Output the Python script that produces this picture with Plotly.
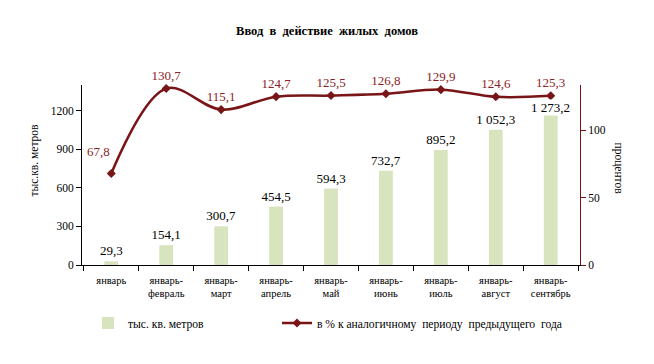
import plotly.graph_objects as go

categories = ["январь", "январь-<br>февраль", "январь-<br>март", "январь-<br>апрель", "январь-<br>май",
              "январь-<br>июнь", "январь-<br>июль", "январь-<br>август", "январь-<br>сентябрь"]
area_values = [29.3, 154.1, 300.7, 454.5, 594.3, 732.7, 895.2, 1052.3, 1273.2]
pct_values = [67.8, 130.7, 115.1, 124.7, 125.5, 126.8, 129.9, 124.6, 125.3]
left_ticks = [0, 300, 600, 900, 1200]
right_ticks = [0, 50, 100]


def fmt(v):
    return f"{v:,.1f}".replace(",", " ").replace(".", ",")


FONT = "Liberation Serif, Times New Roman, serif"
MAROON = "#7a1517"
LABEL_RED = "#8b2326"

W, H = 654, 364
L, R, T, B = 82, 74, 85, 99
PW, PH = W - L - R, H - T - B


def px_x(x):
    return (x - L) / PW


def px_y(y):
    return (H - B - y) / PH


bar_text = [fmt(v) for v in area_values]
bar_text[-1] = ""
line_text = [fmt(v) for v in pct_values]
line_text[0] = ""

fig = go.Figure()
fig.add_trace(go.Bar(
    x=categories, y=area_values, name="тыс. кв. метров",
    marker=dict(color="#d7e4bd", line=dict(width=0)),
    width=0.25,
    text=bar_text, textposition="outside",
    constraintext="none",
    textfont=dict(family=FONT, size=13, color="#000"),
    cliponaxis=False, legend="legend",
))
fig.add_trace(go.Scatter(
    x=categories, y=pct_values, name="в % к аналогичному  периоду  предыдущего  года",
    yaxis="y2", mode="lines+markers+text",
    line=dict(color=MAROON, width=2.5, shape="spline", smoothing=1.0),
    marker=dict(symbol="diamond", size=7, color=MAROON),
    text=line_text,
    textposition="top center",
    textfont=dict(family=FONT, size=13, color=LABEL_RED),
    cliponaxis=False, legend="legend2",
))

legend_common = dict(orientation="h", yanchor="middle", y=px_y(323),
                     font=dict(family=FONT, size=11.6, color="#000"),
                     bgcolor="rgba(0,0,0,0)", itemwidth=30)

fig.update_layout(
    width=W, height=H,
    margin=dict(l=L, r=R, t=T, b=B, autoexpand=False),
    paper_bgcolor="white", plot_bgcolor="white",
    font=dict(family=FONT, size=11, color="#000"),
    title=dict(text="<b>Ввод  в  действие  жилых  домов</b>", x=0.5, xanchor="center",
               y=1 - 31 / H, yanchor="middle", font=dict(family=FONT, size=12.5, color="#000")),
    showlegend=True,
    legend=dict(x=px_x(88), xanchor="left", **legend_common),
    legend2=dict(x=px_x(277), xanchor="left", **legend_common),
    xaxis=dict(
        tickson="boundaries", ticks="outside", ticklen=5, tickcolor="#000",
        showline=True, linecolor="#000", linewidth=1, ticklabelstandoff=5,
        tickfont=dict(family=FONT, size=10.5), showgrid=False,
    ),
    yaxis=dict(
        range=[0, 1400], tickvals=left_ticks, ticks="outside", ticklen=5, tickcolor="#000",
        showline=True, linecolor="#000", linewidth=1, showgrid=False, zeroline=False,
        tickfont=dict(family=FONT, size=11.5),
    ),
    yaxis2=dict(
        range=[0, 133.33], overlaying="y", side="right",
        tickvals=right_ticks, ticks="outside", ticklen=5, tickcolor=MAROON,
        showline=True, linecolor=MAROON, linewidth=1, showgrid=False, zeroline=False,
        tickfont=dict(family=FONT, size=11.5),
    ),
    annotations=[
        dict(text="процентов", textangle=90, x=px_x(627), y=px_y(168),
             xref="paper", yref="paper", showarrow=False,
             font=dict(family=FONT, size=11.5, color="#000")),
        dict(text="тыс.кв. метров", textangle=-90, x=px_x(25), y=px_y(160),
             xref="paper", yref="paper", showarrow=False,
             font=dict(family=FONT, size=11.5, color="#000")),
        # first line label sits up-left of its point
        dict(text=fmt(pct_values[0]), x=categories[0], y=pct_values[0], xref="x", yref="y2",
             xshift=-13, yshift=22, showarrow=False,
             font=dict(family=FONT, size=13, color=LABEL_RED)),
        # last bar label overlaps the bar top on a white background
        dict(text=fmt(area_values[-1]), x=categories[-1], y=area_values[-1], xref="x", yref="y",
             yshift=-6, showarrow=False, bgcolor="white", borderpad=0,
             font=dict(family=FONT, size=13, color="#000")),
    ],
)

fig.write_html("out.html", post_script="document.body.style.margin='0';",
               config={"displayModeBar": False})
